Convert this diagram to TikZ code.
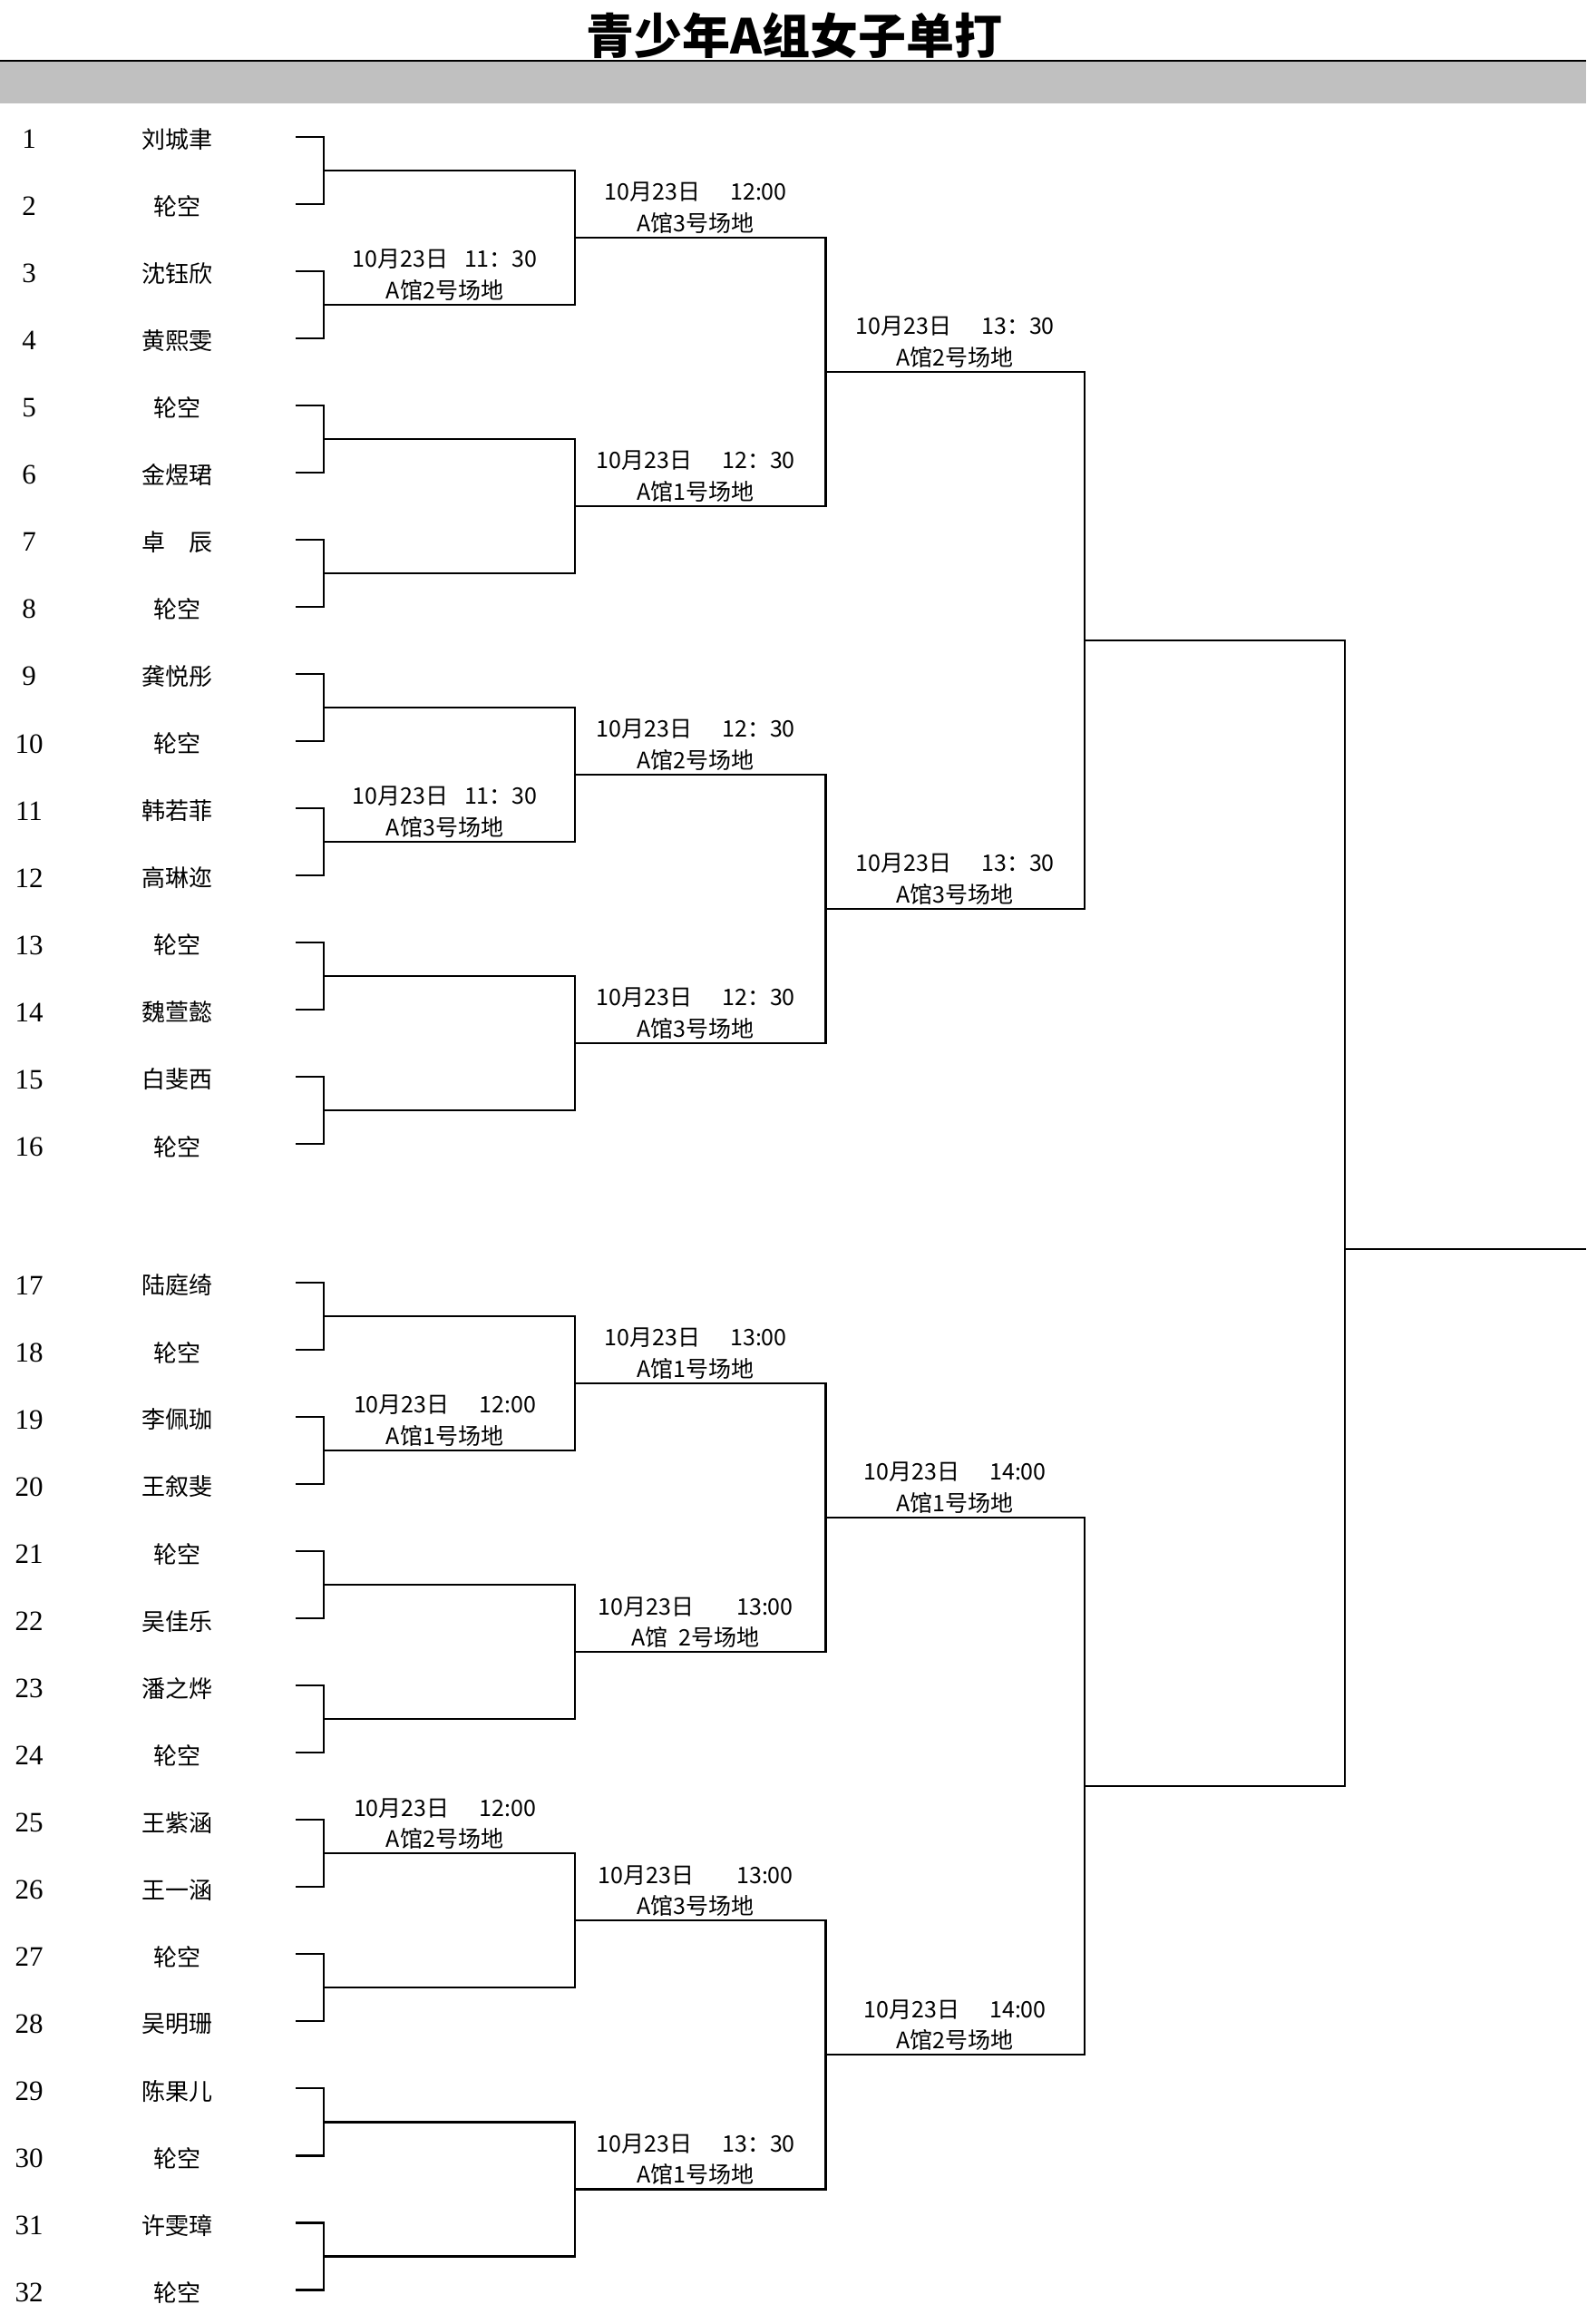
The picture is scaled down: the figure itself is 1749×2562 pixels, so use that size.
\documentclass[tikz,border=0pt]{standalone}
\usepackage{fontspec}
\setmainfont{Liberation Serif}
\newfontfamily\cjk{Noto Sans CJK SC}
\usetikzlibrary{calc}
\definecolor{bargray}{HTML}{C0C0C0}
\newcommand\mlabel[5]{\path ($(#1)!0.5!(#2)$) ++(#3,-50) node[lbl] (#1-d) {#4} ++(0,34) node[lbl] (#1-v) {#5};}
\begin{document}
\begin{tikzpicture}[x=1pt,y=-1pt,line width=2pt,line cap=rect,
  num/.style={font=\fontsize{31}{34}\selectfont,inner sep=0pt},
  pname/.style={font=\cjk\fontsize{26}{30}\selectfont,inner sep=0pt},
  lbl/.style={font=\cjk\fontsize{25}{29}\selectfont,inner sep=0pt},
  bline/.style={draw=black,line width=2.2pt}]
\useasboundingbox (0,0) rectangle (1749,2562);
\fill[white] (0,0) rectangle (1749,2562);
% title and header bar
\node[font=\cjk\bfseries\fontsize{53}{60}\selectfont,inner sep=0pt] (title) at (876,39) {青少年A组女子单打};
\fill[bargray] (0,68) rectangle (1749,113.5);
\coordinate (ruleL) at (0,67);
\coordinate (ruleR) at (1749,67);
\draw[line width=2.5pt,line cap=butt] (ruleL) -- (ruleR);
% players
\foreach \i/\nm in {1/刘城聿,2/轮空,3/沈钰欣,4/黄熙雯,5/轮空,6/金煜珺,7/{卓\hspace{1em}辰},8/轮空,
  9/龚悦彤,10/轮空,11/韩若菲,12/高琳迩,13/轮空,14/魏萱懿,15/白斐西,16/轮空,
  17/陆庭绮,18/轮空,19/李佩珈,20/王叙斐,21/轮空,22/吴佳乐,23/潘之烨,24/轮空,
  25/王紫涵,26/王一涵,27/轮空,28/吴明珊,29/陈果儿,30/轮空,31/许雯璋,32/轮空}{
  \pgfmathsetmacro\ry{\i<17 ? 150.6+(\i-1)*74.03 : 1414+(\i-17)*74.03}
  \node[num] (n\i) at (32,\ry+3) {\i};
  \node[pname] (p\i) at (195,\ry+3) {\nm};
  \coordinate (s\i) at (327,\ry);
  \coordinate (t\i) at (357,\ry);
}
% round 1
\foreach \k in {1,...,16}{
  \pgfmathtruncatemacro\a{2*\k-1}
  \pgfmathtruncatemacro\b{2*\k}
  \draw[bline] (s\a) -- (t\a) -- (t\b) -- (s\b);
  \coordinate (ja\k) at ($(t\a)!0.5!(t\b)$);
  \path (ja\k) ++(277,0) coordinate (ea\k);
  \draw[bline] (ja\k) -- (ea\k);
}
% round 2
\foreach \k in {1,...,8}{
  \pgfmathtruncatemacro\a{2*\k-1}
  \pgfmathtruncatemacro\b{2*\k}
  \draw[bline] (ea\a) -- (ea\b);
  \coordinate (jb\k) at ($(ea\a)!0.5!(ea\b)$);
  \path (jb\k) ++(276.5,0) coordinate (eb\k);
  \draw[bline] (jb\k) -- (eb\k);
}
% round 3
\foreach \k in {1,...,4}{
  \pgfmathtruncatemacro\a{2*\k-1}
  \pgfmathtruncatemacro\b{2*\k}
  \draw[bline] (eb\a) -- (eb\b);
  \coordinate (jc\k) at ($(eb\a)!0.5!(eb\b)$);
  \path (jc\k) ++(285.5,0) coordinate (ec\k);
  \draw[bline] (jc\k) -- (ec\k);
}
% round 4
\foreach \k in {1,...,2}{
  \pgfmathtruncatemacro\a{2*\k-1}
  \pgfmathtruncatemacro\b{2*\k}
  \draw[bline] (ec\a) -- (ec\b);
  \coordinate (jd\k) at ($(ec\a)!0.5!(ec\b)$);
  \path (jd\k) ++(287,0) coordinate (ed\k);
  \draw[bline] (jd\k) -- (ed\k);
}
% final
\draw[bline] (ed1) -- (ed2);
\coordinate (jf) at (ed1 |- 0,1376.7);
\coordinate (ef) at (1749,1376.7);
\draw[bline,line cap=butt] (jf) -- (ef);
% labels round 1
\mlabel{ja2}{ea2}{-5}{10月23日\hspace{18pt}11：30}{A馆2号场地}
\mlabel{ja6}{ea6}{-5}{10月23日\hspace{18pt}11：30}{A馆3号场地}
\mlabel{ja10}{ea10}{-5}{10月23日\hspace{33pt}12:00}{A馆1号场地}
\mlabel{ja13}{ea13}{-5}{10月23日\hspace{33pt}12:00}{A馆2号场地}
% labels round 2
\mlabel{jb1}{eb1}{-5}{10月23日\hspace{33pt}12:00}{A馆3号场地}
\mlabel{jb2}{eb2}{-5}{10月23日\hspace{33pt}12：30}{A馆1号场地}
\mlabel{jb3}{eb3}{-5}{10月23日\hspace{33pt}12：30}{A馆2号场地}
\mlabel{jb4}{eb4}{-5}{10月23日\hspace{33pt}12：30}{A馆3号场地}
\mlabel{jb5}{eb5}{-5}{10月23日\hspace{33pt}13:00}{A馆1号场地}
\mlabel{jb6}{eb6}{-5}{10月23日\hspace{47pt}13:00}{A馆\hspace{12pt}2号场地}
\mlabel{jb7}{eb7}{-5}{10月23日\hspace{47pt}13:00}{A馆3号场地}
\mlabel{jb8}{eb8}{-5}{10月23日\hspace{33pt}13：30}{A馆1号场地}
% labels round 3
\mlabel{jc1}{ec1}{0}{10月23日\hspace{33pt}13：30}{A馆2号场地}
\mlabel{jc2}{ec2}{0}{10月23日\hspace{33pt}13：30}{A馆3号场地}
\mlabel{jc3}{ec3}{0}{10月23日\hspace{33pt}14:00}{A馆1号场地}
\mlabel{jc4}{ec4}{0}{10月23日\hspace{33pt}14:00}{A馆2号场地}
\end{tikzpicture}
\end{document}
